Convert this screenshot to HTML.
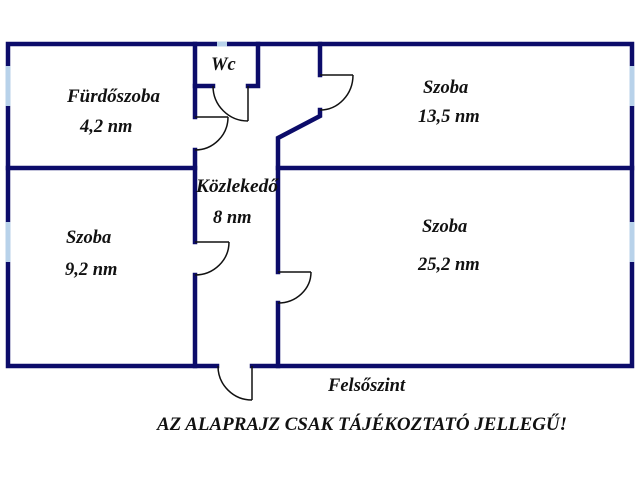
<!DOCTYPE html>
<html><head><meta charset="utf-8"><style>
html,body{margin:0;padding:0;background:#fff;}
svg{display:block}
text{font-family:"Liberation Serif",serif;font-weight:bold;font-style:italic;fill:#111;font-size:18.5px}
</style></head><body>
<svg width="640" height="480" viewBox="0 0 640 480">
<g stroke="#0c0c6a" stroke-width="4.5" fill="none" stroke-linecap="square">
<path d="M8 44 H632 V366 H252 M217 366 H8 V44"/>
<path d="M195 44 V117 M195 150 V242 M195 275 V366"/>
<path d="M8 168 H195 M278 168 H632"/>
<path d="M258 44 V86 H248 M195 86 H213"/>
<path d="M320 44 V75 M320 110 V116 L278 138 V272 M278 303 V366"/>
</g>
<g stroke="#b8d2ea" stroke-width="5">
<path d="M8 66 V106 M8 222 V262 M632 66 V106 M632 222 V262 M217 44 H227"/>
</g>
<g stroke="#111" stroke-width="1.5" fill="none">
<path d="M248 86 V121 M213 86 A35 35 0 0 0 248 121"/>
<path d="M195 117 H228 M228 117 A33 33 0 0 1 195 150"/>
<path d="M320 75 H353 M353 75 A33 35 0 0 1 320 110"/>
<path d="M195 242 H229 M229 242 A34 33 0 0 1 195 275"/>
<path d="M278 272 H311 M311 272 A33 31 0 0 1 278 303"/>
<path d="M252 366 V400 M218 366 A34 34 0 0 0 252 400"/>
</g>
<text x="67" y="102" textLength="93" lengthAdjust="spacingAndGlyphs">Fürdőszoba</text>
<text x="80" y="132">4,2 nm</text>
<text x="211" y="70">Wc</text>
<text x="423" y="93">Szoba</text>
<text x="418" y="122">13,5 nm</text>
<text x="196" y="192" textLength="82" lengthAdjust="spacingAndGlyphs">Közlekedő</text>
<text x="213" y="223">8 nm</text>
<text x="66" y="243">Szoba</text>
<text x="65" y="275">9,2 nm</text>
<text x="422" y="232">Szoba</text>
<text x="418" y="270">25,2 nm</text>
<text x="328" y="391">Felsőszint</text>
<text x="157" y="430" font-size="17" textLength="410" lengthAdjust="spacingAndGlyphs">AZ ALAPRAJZ CSAK TÁJÉKOZTATÓ JELLEGŰ!</text>
</svg>
</body></html>
